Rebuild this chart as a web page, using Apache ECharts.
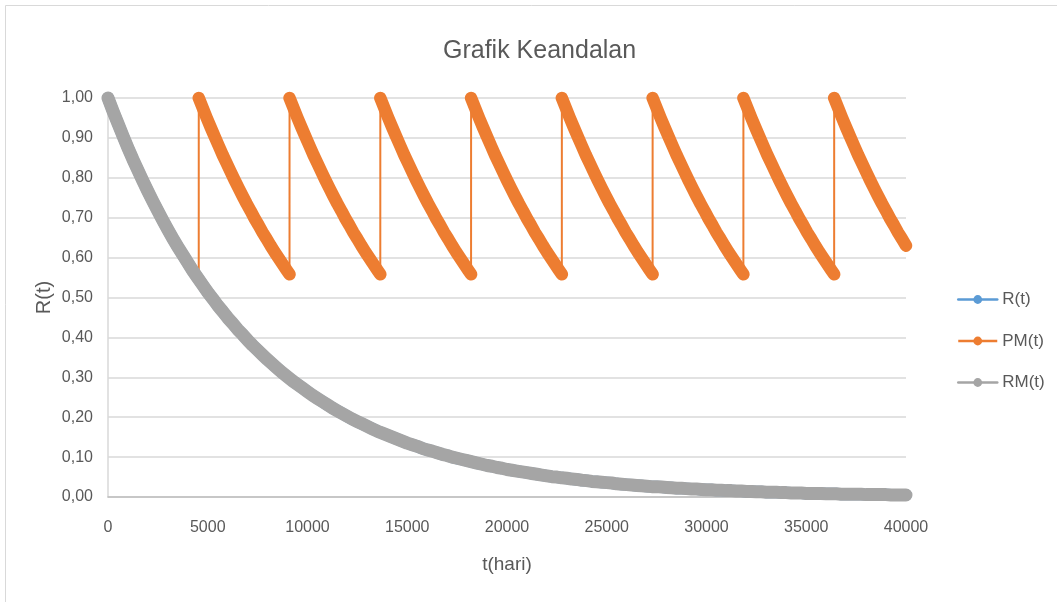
<!DOCTYPE html>
<html>
<head>
<meta charset="utf-8">
<title>Grafik Keandalan</title>
<script src="https://cdn.jsdelivr.net/npm/echarts@6/dist/echarts.min.js"></script>
<style>
  html, body { margin: 0; padding: 0; background: #ffffff; }
  #chart { width: 1057px; height: 602px; }
</style>
</head>
<body>
<div id="chart"></div>
<script>
// Reliability without maintenance, sampled every 250 days from t = 0 to t = 40000
const sampleStep = 250;
const reliability = [
  1.000, 0.967, 0.936, 0.905, 0.875, 0.846, 0.819, 0.792, 0.766, 0.741,
  0.717, 0.693, 0.670, 0.648, 0.627, 0.607, 0.587, 0.567, 0.549, 0.531,
  0.513, 0.497, 0.480, 0.465, 0.449, 0.435, 0.420, 0.407, 0.393, 0.380,
  0.368, 0.356, 0.344, 0.333, 0.322, 0.311, 0.301, 0.291, 0.282, 0.273,
  0.264, 0.255, 0.247, 0.239, 0.231, 0.223, 0.216, 0.209, 0.202, 0.195,
  0.189, 0.183, 0.177, 0.171, 0.165, 0.160, 0.155, 0.150, 0.145, 0.140,
  0.135, 0.131, 0.127, 0.122, 0.118, 0.115, 0.111, 0.107, 0.104, 0.100,
  0.097, 0.094, 0.091, 0.088, 0.085, 0.082, 0.079, 0.077, 0.074, 0.072,
  0.069, 0.067, 0.065, 0.063, 0.061, 0.059, 0.057, 0.055, 0.053, 0.051,
  0.050, 0.048, 0.047, 0.045, 0.044, 0.042, 0.041, 0.039, 0.038, 0.037,
  0.036, 0.035, 0.033, 0.032, 0.031, 0.030, 0.029, 0.028, 0.027, 0.026,
  0.026, 0.025, 0.024, 0.023, 0.022, 0.022, 0.021, 0.020, 0.020, 0.019,
  0.018, 0.018, 0.017, 0.017, 0.016, 0.016, 0.015, 0.015, 0.014, 0.014,
  0.013, 0.013, 0.012, 0.012, 0.012, 0.011, 0.011, 0.010, 0.010, 0.010,
  0.009, 0.009, 0.009, 0.009, 0.008, 0.008, 0.008, 0.007, 0.007, 0.007,
  0.007, 0.007, 0.006, 0.006, 0.006, 0.006, 0.006, 0.005, 0.005, 0.005,
  0.005
];

// Preventive maintenance: reliability within one maintenance cycle (days since last PM)
const cycleOffsets = [
  0, 200, 400, 600, 800, 1000, 1200, 1400, 1600, 1800, 2000, 2200,
  2400, 2600, 2800, 3000, 3200, 3400, 3600, 3800, 4000, 4200, 4400, 4549
];
const cycleValues = [
  1.000, 0.975, 0.950, 0.926, 0.903, 0.880, 0.857, 0.836, 0.815, 0.794, 0.774, 0.754,
  0.735, 0.717, 0.698, 0.681, 0.663, 0.647, 0.630, 0.614, 0.599, 0.584, 0.569, 0.558
];
// Days at which each maintenance cycle starts
const resetDays = [0, 4550, 9100, 13650, 18200, 22750, 27300, 31850, 36400];

// Axis ticks
const xMax = 40000, xStep = 5000;
const yMax = 1, yStep = 0.1;

const FONT = '"Liberation Sans", Arial, sans-serif';
const TEXT = '#595959';
const C_R = '#5B9BD5', C_PM = '#ED7D31', C_RM = '#A5A5A5';

// Build [day, value] pairs
const rPoints = reliability.map((v, i) => [i * sampleStep, v]);
const pmPoints = [];      // continuous sawtooth, including the jumps at each PM
const pmBands = [];       // thick strokes of the cycles after the first PM, broken between cycles
resetDays.forEach((start, c) => {
  cycleOffsets.forEach((o, j) => {
    const t = start + o;
    if (t > xMax) return;
    pmPoints.push([t, cycleValues[j]]);
    if (c > 0) pmBands.push([t, cycleValues[j]]);
  });
  if (c > 0 && c < resetDays.length - 1) {
    pmBands.push([start + cycleOffsets[cycleOffsets.length - 1], '-']);
  }
});

const chart = echarts.init(document.getElementById('chart'), null, { renderer: 'canvas' });
chart.setOption({
  backgroundColor: '#ffffff',
  animation: false,
  textStyle: { fontFamily: FONT },
  title: {
    text: 'Grafik Keandalan',
    left: 438,
    top: 34,
    textStyle: { fontFamily: FONT, fontSize: 25, fontWeight: 'normal', color: TEXT }
  },
  graphic: [{
    type: 'rect',
    shape: { x: 5.5, y: 5.5, width: 1100, height: 700 },
    style: { fill: 'none', stroke: '#d9d9d9', lineWidth: 1 },
    silent: true
  }],
  legend: {
    orient: 'vertical',
    left: 957,
    top: 291,
    padding: 0,
    itemWidth: 39,
    itemHeight: 11,
    itemGap: 24.5,
    data: ['R(t)', 'PM(t)', 'RM(t)'],
    textStyle: { fontFamily: FONT, fontSize: 17, color: TEXT },
    lineStyle: { width: 2.5 },
    selectedMode: false
  },
  grid: { left: 108, right: 151, top: 98, bottom: 105, containLabel: false },
  xAxis: {
    type: 'value',
    min: 0, max: xMax, interval: xStep,
    name: 't(hari)',
    nameLocation: 'middle',
    nameGap: 58,
    nameMoveOverlap: false,
    nameTextStyle: { fontFamily: FONT, fontSize: 19, color: TEXT },
    axisLine: { show: true, lineStyle: { color: '#bfbfbf', width: 1.5 } },
    axisTick: { show: false },
    splitLine: { show: false },
    axisLabel: {
      margin: 23, fontFamily: FONT, fontSize: 16, color: TEXT,
      formatter: v => String(v)
    }
  },
  yAxis: {
    type: 'value',
    min: 0, max: yMax, interval: yStep,
    name: 'R(t)',
    nameLocation: 'middle',
    nameGap: 54,
    nameMoveOverlap: false,
    nameTextStyle: { fontFamily: FONT, fontSize: 20, color: TEXT },
    axisLine: { show: true, lineStyle: { color: '#d9d9d9', width: 1.5 } },
    axisTick: { show: false },
    splitLine: { show: true, lineStyle: { color: '#d9d9d9', width: 1.5 } },
    axisLabel: {
      margin: 15, fontFamily: FONT, fontSize: 16, color: TEXT,
      formatter: v => v.toFixed(2).replace('.', ',')
    }
  },
  series: [
    {
      name: 'R(t)', type: 'line', data: rPoints,
      symbol: 'circle', showSymbol: false, clip: false,
      itemStyle: { color: C_R },
      lineStyle: { color: C_R, width: 12, cap: 'round', join: 'round' }
    },
    {
      name: 'PM(t)', type: 'line', data: pmPoints,
      symbol: 'circle', showSymbol: false, clip: false,
      itemStyle: { color: C_PM },
      lineStyle: { color: C_PM, width: 2, join: 'round' }
    },
    {
      name: 'PM(t)', type: 'line', data: pmBands, connectNulls: false,
      symbol: 'circle', showSymbol: false, clip: false,
      itemStyle: { color: C_PM },
      lineStyle: { color: C_PM, width: 12.5, cap: 'round', join: 'round' }
    },
    {
      name: 'RM(t)', type: 'line', data: rPoints,
      symbol: 'circle', showSymbol: false, clip: false,
      itemStyle: { color: C_RM },
      lineStyle: { color: C_RM, width: 13, cap: 'round', join: 'round' }
    }
  ]
});
</script>
</body>
</html>
